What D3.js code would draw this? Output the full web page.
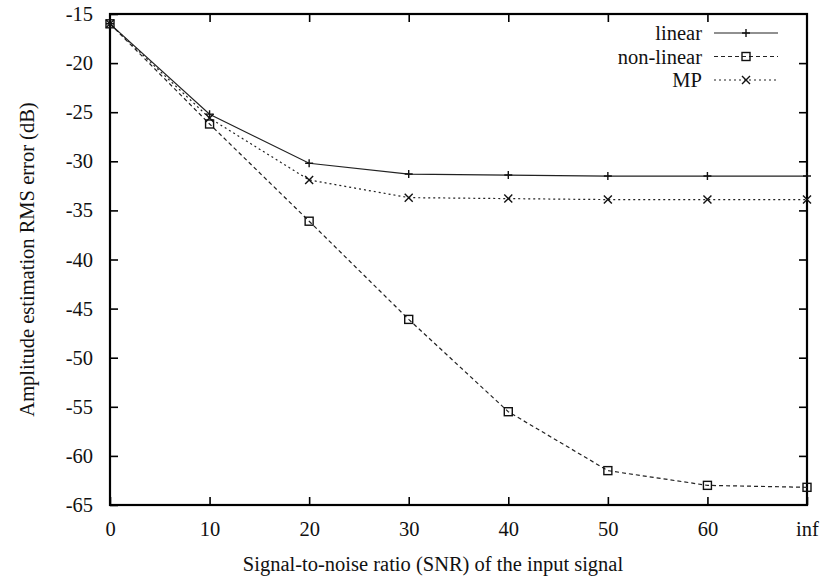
<!DOCTYPE html>
<html>
<head>
<meta charset="utf-8">
<script src="https://cdn.jsdelivr.net/npm/d3@7"></script>
<style>
  body { margin: 0; background: #fff; }
  svg text { font-family: "Liberation Serif", "Times New Roman", serif; fill: #111; }
</style>
</head>
<body>
<svg id="chart" width="833" height="577"></svg>
<script>
// --- Data ---
const snrLabels = ["0", "10", "20", "30", "40", "50", "60", "inf"];
const linearErr = [-16.0, -25.2, -30.2, -31.3, -31.4, -31.5, -31.5, -31.5];
const nonLinearErr = [-16.0, -26.2, -36.1, -46.1, -55.5, -61.5, -63.0, -63.2];
const mpErr = [-16.0, -25.6, -31.9, -33.7, -33.8, -33.9, -33.9, -33.9];
const yTicks = [-15, -20, -25, -30, -35, -40, -45, -50, -55, -60, -65];

const svg = d3.select("#chart");
const margin = { left: 110, right: 26, top: 14, bottom: 72 };
const width = 833, height = 577;
const fontSize = "20.5px";

// --- Scales ---
const x = d3.scaleLinear().domain([0, snrLabels.length - 1]).range([margin.left, width - margin.right]);
const y = d3.scaleLinear().domain([-65, -15]).range([height - margin.bottom, margin.top]);

const tickLen = 8;
const g = svg.append("g");

// --- Axes (ticks inward, mirrored on all sides) ---
const xb = d3.axisBottom(x).tickValues(d3.range(snrLabels.length)).tickFormat(i => snrLabels[i])
  .tickSizeInner(-tickLen).tickSizeOuter(0).tickPadding(16);
const xt = d3.axisTop(x).tickValues(d3.range(1, snrLabels.length - 1)).tickFormat("")
  .tickSizeInner(-tickLen).tickSizeOuter(0);
const yl = d3.axisLeft(y).tickValues(yTicks).tickFormat(d => String(d))
  .tickSizeInner(-tickLen).tickSizeOuter(0).tickPadding(17);
const yr = d3.axisRight(y).tickValues(yTicks.slice(1, -1)).tickFormat("")
  .tickSizeInner(-tickLen).tickSizeOuter(0);

function styleAxis(sel) {
  sel.select(".domain").remove();
  sel.selectAll(".tick line").attr("stroke", "#000").attr("stroke-width", 1.6);
  sel.selectAll("text").style("font-size", fontSize).attr("fill", "#111");
}

g.append("g").attr("transform", `translate(0,${y(-65)})`).call(xb).call(styleAxis);
g.append("g").attr("transform", `translate(0,${y(-15)})`).call(xt).call(styleAxis);
g.append("g").attr("transform", `translate(${x(0)},0)`).call(yl).call(styleAxis);
g.append("g").attr("transform", `translate(${x(snrLabels.length - 1)},0)`).call(yr).call(styleAxis);

// frame
g.append("rect")
  .attr("x", x(0)).attr("y", y(-15))
  .attr("width", x(snrLabels.length - 1) - x(0))
  .attr("height", y(-65) - y(-15))
  .attr("fill", "none").attr("stroke", "#000").attr("stroke-width", 2.2);

// --- Axis titles ---
svg.append("text")
  .attr("x", 433).attr("y", 571)
  .attr("text-anchor", "middle").style("font-size", fontSize)
  .text("Signal-to-noise ratio (SNR) of the input signal");

svg.append("text")
  .attr("transform", `translate(34,${(y(-15) + y(-65)) / 2}) rotate(-90)`)
  .attr("text-anchor", "middle").style("font-size", fontSize)
  .text("Amplitude estimation RMS error (dB)");

// --- Series ---
const series = [
  { name: "linear", values: linearErr, dash: null, marker: "plus" },
  { name: "non-linear", values: nonLinearErr, dash: "4,3", marker: "square" },
  { name: "MP", values: mpErr, dash: "2,3", marker: "cross" }
];

const line = d3.line().x((d, i) => x(i)).y(d => y(d));

function drawMarker(sel, type, cx, cy) {
  const s = 4;
  if (type === "plus") {
    sel.append("path").attr("d", `M${cx - s},${cy}H${cx + s}M${cx},${cy - s}V${cy + s}`);
  } else if (type === "square") {
    sel.append("rect").attr("x", cx - s).attr("y", cy - s).attr("width", 2 * s).attr("height", 2 * s)
      .attr("fill", "none");
  } else {
    sel.append("path").attr("d", `M${cx - s},${cy - s}L${cx + s},${cy + s}M${cx - s},${cy + s}L${cx + s},${cy - s}`);
  }
}

series.forEach(s => {
  g.append("path")
    .datum(s.values)
    .attr("d", line)
    .attr("fill", "none")
    .attr("stroke", "#222")
    .attr("stroke-width", 1.2)
    .attr("stroke-dasharray", s.dash);
  const mg = g.append("g").attr("stroke", "#111").attr("stroke-width", 1.4);
  s.values.forEach((v, i) => drawMarker(mg, s.marker, x(i), y(v)));
});

// --- Legend ---
const legend = svg.append("g");
series.forEach((s, i) => {
  const ly = 33 + i * 23.5;
  legend.append("text")
    .attr("x", 702).attr("y", ly).attr("dy", "0.35em")
    .attr("text-anchor", "end").style("font-size", fontSize)
    .text(s.name);
  legend.append("line")
    .attr("x1", 714).attr("x2", 778).attr("y1", ly).attr("y2", ly)
    .attr("stroke", "#222").attr("stroke-width", 1.2)
    .attr("stroke-dasharray", s.dash);
  const mg = legend.append("g").attr("stroke", "#111").attr("stroke-width", 1.4);
  drawMarker(mg, s.marker, 746, ly);
});
</script>
</body>
</html>
